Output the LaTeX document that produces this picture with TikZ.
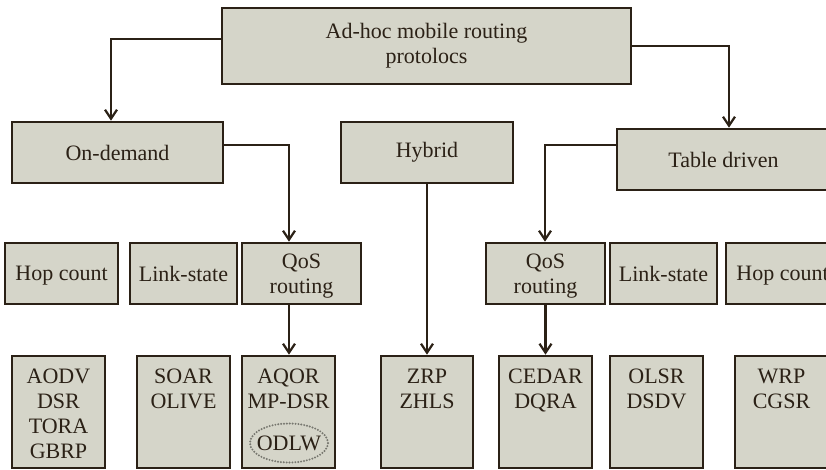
\documentclass[tikz,border=0pt]{standalone}
\usepackage{fontspec}
\setmainfont{Liberation Serif}
\usetikzlibrary{arrows.meta}
\definecolor{boxfill}{HTML}{D5D5C9}
\definecolor{ink}{HTML}{2B2116}
\definecolor{dotgray}{HTML}{77776F}

\begin{document}
\begin{tikzpicture}[x=0.5pt,y=-0.5pt,
  box/.style={draw=ink, fill=boxfill, line width=1.3pt, inner sep=0pt,
    text=ink, align=center, font=\fontsize{11}{12.5}\selectfont},
  fam/.style={box, minimum height=30.5pt},
  cls/.style={box, minimum height=30.5pt, text depth=0pt},
  leaf/.style={box, minimum width=46.5pt, minimum height=56pt},
  lst/.style={text=ink, align=center, inner sep=0pt, anchor=north,
    font=\fontsize{11}{12.5}\selectfont},
  arr/.style={draw=ink, line width=1.1pt,
    -{Straight Barb[length=4.5pt,width=6pt,line width=1.1pt]}},
  dots/.style={draw=dotgray, line width=1.1pt, line cap=round,
    dash pattern=on 0pt off 1.45pt}]

\useasboundingbox (0,0) rectangle (826,470);
\clip (0,0) rectangle (826,470);

% root and the three families
\node[box, minimum width=204.5pt, minimum height=38pt] (root) at (426.5,46)
  {Ad-hoc mobile routing\\protolocs};
\node[fam, minimum width=105.5pt] (ondemand) at (117.5,152.5) {On-demand};
\node[fam, minimum width=86pt] (hybrid) at (427,152.5) {Hybrid};
\node[fam, minimum width=106.5pt] (table) at (723.5,159.5) {Table driven};

% metric classes
\node[cls, minimum width=56.5pt] (hopL) at (61.5,273.5) {Hop count};
\node[cls, minimum width=53.5pt] (linkL) at (183.5,273.5) {Link-state};
\node[cls, minimum width=59.5pt] (qosL) at (301.5,273.5) {QoS\\routing};
\node[cls, minimum width=59.5pt] (qosR) at (545.5,273.5) {QoS\\routing};
\node[cls, minimum width=53.5pt] (linkR) at (663.5,273.5) {Link-state};
\node[cls, minimum width=56.5pt] (hopR) at (782.5,273.5) {Hop count};

% protocol lists
\node[leaf] (aodv) at (58.5,412) {};
\node[leaf] (soar) at (183.5,412) {};
\node[leaf] (aqor) at (288.5,412) {};
\node[leaf, minimum width=46pt] (zrp) at (427,412) {};
\node[leaf] (cedar) at (545.5,412) {};
\node[leaf] (olsr) at (656.5,412) {};
\node[leaf] (wrp) at (781.5,412) {};

\node[lst] (aodvt) at ([yshift=-7pt]aodv.north) {AODV\\DSR\\TORA\\GBRP};
\node[lst] (soart) at ([yshift=-7pt]soar.north) {SOAR\\OLIVE};
\node[lst] (aqort) at ([yshift=-7pt]aqor.north) {AQOR\\MP-DSR};
\node[lst] (zrpt) at ([yshift=-7pt]zrp.north) {ZRP\\ZHLS};
\node[lst] (cedart) at ([yshift=-7pt]cedar.north) {CEDAR\\DQRA};
\node[lst] (olsrt) at ([yshift=-7pt]olsr.north) {OLSR\\DSDV};
\node[lst] (wrpt) at ([yshift=-7pt]wrp.north) {WRP\\CGSR};

\node[text=ink, inner sep=0pt, font=\fontsize{11}{12.5}\selectfont] (odlw) at (289,443) {ODLW};
\draw[dots] (odlw.center) ellipse [x radius=19.5pt, y radius=9.75pt];

% bend points of the connectors
\coordinate (k1) at (111,39);
\coordinate (k2) at (729,46);
\coordinate (k3) at (289,145);
\coordinate (k5) at (545,145);

\draw[arr] (root.west |- k1) -| (ondemand.north -| k1);
\draw[arr] (root.east |- k2) -| (table.north -| k2);
\draw[arr] (ondemand.east |- k3) -| (qosL.north -| k3);
\draw[arr] (hybrid.south) -- (zrp.north);
\draw[arr] (table.west |- k5) -| (qosR.north -| k5);
\draw[arr] (qosL.south -| k3) -- (aqor.north -| k3);
\draw[arr] (qosR.south) -- (cedar.north);
\end{tikzpicture}
\end{document}
